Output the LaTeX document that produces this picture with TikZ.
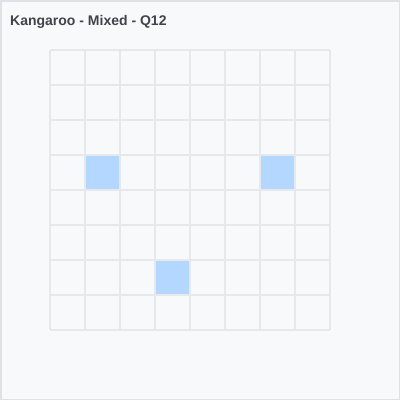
\documentclass[tikz,border=0pt]{standalone}
\usepackage{fontspec}
\setmainfont{Liberation Sans}
\definecolor{bg}{HTML}{F8F9FA}
\definecolor{frame}{HTML}{DEE2E6}
\definecolor{gridc}{HTML}{E6E8EB}
\definecolor{cellblue}{HTML}{B3D7FF}
\definecolor{titlec}{HTML}{40444A}
\tikzset{
  gridline/.style={draw=gridc, line width=1.5pt},
  shaded/.style={fill=cellblue, draw=none},
  titletext/.style={anchor=base west, inner sep=0pt, font=\fontsize{14pt}{16pt}\selectfont\bfseries, text=titlec}
}
\begin{document}
\begin{tikzpicture}[x=1pt,y=-1pt]
\useasboundingbox (0,0) rectangle (400,400);
\fill[bg] (0,0) rectangle (400,400);
\draw[frame, line width=1.5pt] (0.75,0.75) rectangle (399.25,399.25);
\node[titletext] (title) at (10,25) {Kangaroo - Mixed - Q12};
\node[shaded, minimum size=35pt, inner sep=0pt, anchor=north west] (c1) at (85,155) {};
\node[shaded, minimum size=35pt, inner sep=0pt, anchor=north west] (c2) at (260,155) {};
\node[shaded, minimum size=35pt, inner sep=0pt, anchor=north west] (c3) at (155,260) {};
\foreach \i in {0,...,8} {
  \draw[gridline] (50+35*\i,50) -- (50+35*\i,330);
  \draw[gridline] (50,50+35*\i) -- (330,50+35*\i);
}
\end{tikzpicture}
\end{document}
